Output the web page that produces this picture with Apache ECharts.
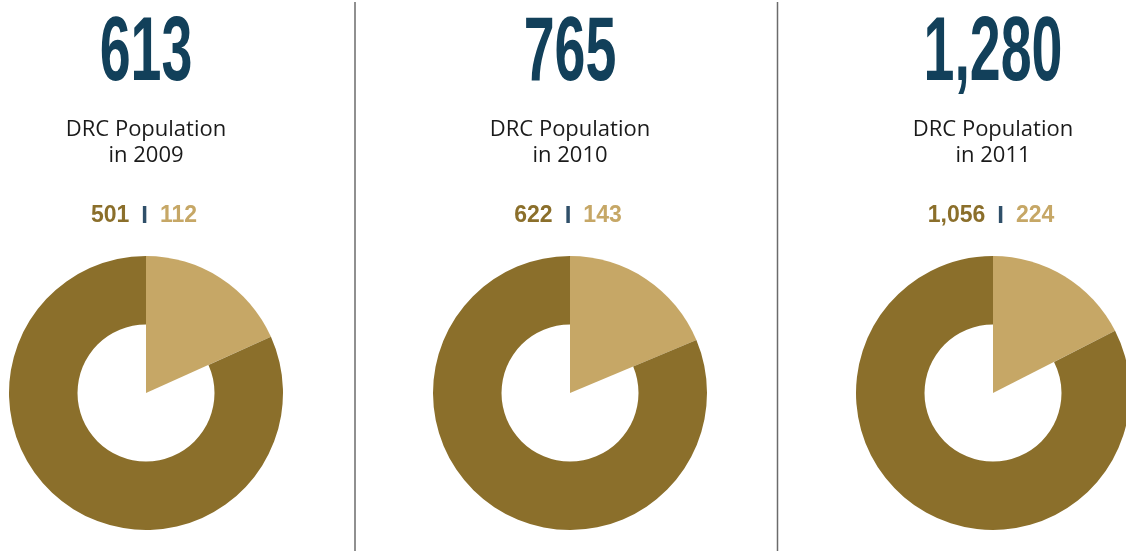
<!DOCTYPE html>
<html>
<head>
<meta charset="utf-8">
<title>DRC Population</title>
<script src="https://cdn.jsdelivr.net/npm/echarts@6/dist/echarts.min.js"></script>
<style>
  html, body { margin: 0; padding: 0; background: #ffffff; }
  #chart { width: 1126px; height: 551px; }
</style>
</head>
<body>
<div id="chart"></div>
<script>
  // data
  const years = ['2009', '2010', '2011'];
  const totals = [613, 765, 1280];
  const darkValues = [501, 622, 1056];
  const lightValues = [112, 143, 224];

  // colours
  const NAVY = '#12405a';
  const DARK_GOLD = '#8b6f2b';
  const LIGHT_GOLD = '#c6a766';
  const SEP_BLUE = '#2f4f69';

  // layout
  const centersX = [146, 570, 993];
  const pieY = 393;
  const outerR = 137;
  const innerR = 68.5;
  const dividersX = [355, 777.5];

  const fmt = (v) => v.toLocaleString('en-US');

  const chart = echarts.init(document.getElementById('chart'));

  const series = [];
  const graphic = [];

  const valueFont = '"Liberation Sans", sans-serif';

  years.forEach((year, i) => {
    const cx = centersX[i];

    // light slice reaches the centre
    series.push({
      type: 'pie',
      center: [cx, pieY],
      radius: [0, outerR],
      silent: true,
      label: { show: false },
      labelLine: { show: false },
      data: [
        { value: lightValues[i], itemStyle: { color: LIGHT_GOLD } },
        { value: darkValues[i], itemStyle: { color: 'rgba(0,0,0,0)' } },
      ],
    });
    // dark part is a ring
    series.push({
      type: 'pie',
      center: [cx, pieY],
      radius: [innerR, outerR],
      silent: true,
      label: { show: false },
      labelLine: { show: false },
      data: [
        { value: lightValues[i], itemStyle: { color: 'rgba(0,0,0,0)' } },
        { value: darkValues[i], itemStyle: { color: DARK_GOLD } },
      ],
    });

    graphic.push({
      type: 'text',
      x: cx,
      y: 55,
      scaleX: 0.61,
      style: {
        text: fmt(totals[i]),
        font: 'bold 91px "Liberation Sans Narrow", "Liberation Sans", sans-serif',
        fill: NAVY,
        align: 'center',
        verticalAlign: 'middle',
      },
    });
    graphic.push({
      type: 'text',
      x: cx,
      y: 130,
      style: {
        text: 'DRC Population',
        font: '22px "Open Sans", sans-serif',
        fill: '#1a1a1a',
        align: 'center',
        verticalAlign: 'middle',
      },
    });
    graphic.push({
      type: 'text',
      x: cx,
      y: 156,
      style: {
        text: 'in ' + year,
        font: '22px "Open Sans", sans-serif',
        fill: '#1a1a1a',
        align: 'center',
        verticalAlign: 'middle',
      },
    });
    graphic.push({
      type: 'text',
      x: cx - 2,
      y: 216,
      style: {
        text: '{a|' + fmt(darkValues[i]) + '}{s|I}{b|' + fmt(lightValues[i]) + '}',
        align: 'center',
        verticalAlign: 'middle',
        rich: {
          a: { fill: DARK_GOLD, font: 'bold 23px ' + valueFont },
          s: { fill: SEP_BLUE, font: 'bold 24px ' + valueFont, padding: [0, 12] },
          b: { fill: LIGHT_GOLD, font: 'bold 23px ' + valueFont },
        },
      },
    });
  });

  dividersX.forEach((x) => {
    graphic.push({
      type: 'line',
      shape: { x1: x, y1: 2, x2: x, y2: 551 },
      style: { stroke: '#6b6b6b', lineWidth: 1.5 },
    });
  });

  chart.setOption({
    backgroundColor: '#ffffff',
    animation: false,
    series: series,
    graphic: graphic,
  });

  window.addEventListener('resize', () => chart.resize());
</script>
</body>
</html>
